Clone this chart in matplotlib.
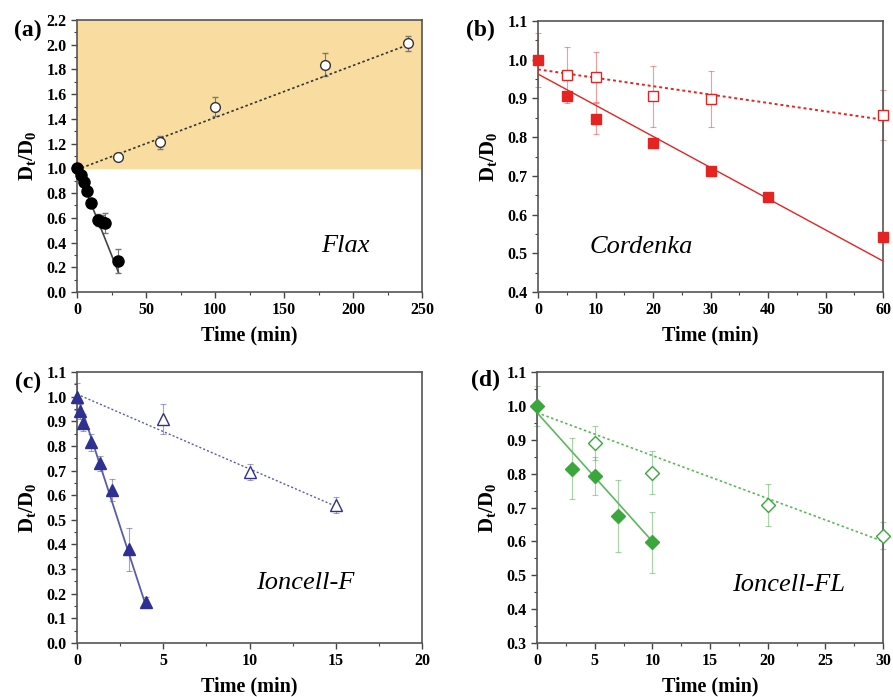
import matplotlib
matplotlib.use("Agg")
import matplotlib.pyplot as plt
from matplotlib.ticker import MultipleLocator

plt.rcParams['font.family'] = ['Liberation Serif', 'DejaVu Serif']
plt.rcParams['font.size'] = 11
plt.rcParams['mathtext.fontset'] = 'custom'
plt.rcParams['mathtext.rm'] = 'Liberation Serif'
plt.rcParams['mathtext.bf'] = 'Liberation Serif:bold'

# (a) Flax
flax_t_fast = [0, 3, 5, 7, 10, 15, 18, 20, 30]
flax_fast = [1.0, 0.95, 0.89, 0.82, 0.72, 0.58, 0.57, 0.56, 0.25]
flax_fast_err = [0.02, 0.02, 0.03, 0.03, 0.03, 0.05, 0.05, 0.08, 0.10]
flax_t_slow = [30, 60, 100, 180, 240]
flax_slow = [1.09, 1.21, 1.50, 1.84, 2.01]
flax_slow_err = [0.02, 0.05, 0.08, 0.09, 0.06]
flax_fit_fast = ([0, 30], [1.0, 0.16])
flax_fit_slow = ([0, 240], [0.99, 2.0])

# (b) Cordenka
cord_t_fast = [0, 5, 10, 20, 30, 40, 60]
cord_fast = [1.0, 0.905, 0.848, 0.785, 0.712, 0.645, 0.542]
cord_fast_err = [0.07, 0.01, 0.04, 0.01, 0.01, 0.01, 0.01]
cord_t_slow = [5, 10, 20, 30, 60]
cord_slow = [0.96, 0.955, 0.905, 0.898, 0.858]
cord_slow_err = [0.073, 0.065, 0.078, 0.073, 0.065]
cord_fit_fast = ([0, 60], [0.963, 0.48])
cord_fit_slow = ([0, 60], [0.975, 0.845])

# (c) Ioncell-F
ionf_t_fast = [0, 0.167, 0.333, 0.833, 1.333, 2, 3, 4]
ionf_fast = [1.0, 0.94, 0.895, 0.815, 0.73, 0.62, 0.38, 0.165]
ionf_fast_err = [0.055, 0.03, 0.035, 0.035, 0.03, 0.045, 0.087, 0.02]
ionf_t_slow = [5, 10, 15]
ionf_slow = [0.91, 0.695, 0.56]
ionf_slow_err = [0.06, 0.033, 0.033]
ionf_fit_fast = ([0, 4], [1.01, 0.15])
ionf_fit_slow = ([0, 15], [1.01, 0.555])

# (d) Ioncell-FL
ionfl_t_fast = [0, 3, 5, 7, 10]
ionfl_fast = [1.0, 0.815, 0.793, 0.675, 0.598]
ionfl_fast_err = [0.06, 0.09, 0.055, 0.105, 0.09]
ionfl_t_slow = [5, 10, 20, 30]
ionfl_slow = [0.89, 0.803, 0.707, 0.617]
ionfl_slow_err = [0.05, 0.063, 0.062, 0.04]
ionfl_fit_fast = ([0, 10], [0.98, 0.60])
ionfl_fit_slow = ([0, 30], [0.98, 0.60])

fig = plt.figure(figsize=(8.93, 6.97), dpi=100)
W, H = 893, 697


def make_ax(l, r, t, b):
    return fig.add_axes([l / W, 1 - b / H, (r - l) / W, (b - t) / H])


def style(ax, xlim, ylim, xmaj, xmin, ymaj, ymin):
    ax.set_xlim(*xlim)
    ax.set_ylim(*ylim)
    ax.xaxis.set_major_locator(MultipleLocator(xmaj))
    ax.xaxis.set_minor_locator(MultipleLocator(xmin))
    ax.yaxis.set_major_locator(MultipleLocator(ymaj))
    ax.yaxis.set_minor_locator(MultipleLocator(ymin))
    ax.tick_params(which='major', direction='out', length=4, width=1,
                   color='#444444', labelsize=11.5)
    ax.tick_params(which='minor', direction='out', length=2.5, width=0.8,
                   color='#444444')
    for lab in ax.get_xticklabels() + ax.get_yticklabels():
        lab.set_fontweight('bold')
    for sp in ax.spines.values():
        sp.set_color('#555555')
        sp.set_linewidth(1.2)
    ax.set_xlabel('Time (min)', fontsize=14.5, fontweight='bold', labelpad=5)
    ax.set_ylabel(r'$\mathbf{D_t/D_0}$', fontsize=15, labelpad=6)


def series(ax, t, y, e, marker, color, fill, ms):
    ax.errorbar(t, y, yerr=e, fmt='none', ecolor=color, elinewidth=0.8,
                capsize=2, capthick=0.8, alpha=0.45, zorder=2, clip_on=False)
    ax.plot(t, y, linestyle='none', marker=marker, markersize=ms,
            markerfacecolor=color if fill else 'white',
            markeredgecolor=color, markeredgewidth=1.0, zorder=4,
            clip_on=False)


# panel (a)
ax = make_ax(77, 422, 20, 292)
style(ax, (0, 250), (0, 2.2), 50, 25, 0.2, 0.1)
ax.axhspan(1.0, 2.2, color='#F9DCA0', zorder=0)
ax.plot(*flax_fit_fast, color='#444444', lw=1.2, zorder=3)
ax.plot(*flax_fit_slow, color='#333333', lw=1.2, ls=(0, (1.5, 1.5)), zorder=3)
ax.errorbar(flax_t_fast, flax_fast, yerr=flax_fast_err, fmt='none',
            ecolor='#777777', elinewidth=0.8, capsize=2, zorder=2)
ax.plot(flax_t_fast, flax_fast, 'o', color='black', markersize=8, zorder=4,
        clip_on=False)
ax.errorbar(flax_t_slow, flax_slow, yerr=flax_slow_err, fmt='none',
            ecolor='#777777', elinewidth=0.8, capsize=2, zorder=2)
ax.plot(flax_t_slow, flax_slow, 'o', markerfacecolor='white',
        markeredgecolor='#333333', markersize=7, markeredgewidth=1.0, zorder=4)
ax.text(0.777, 0.169, 'Flax', transform=ax.transAxes, fontsize=19,
        style='italic', ha='center', va='center')

# panel (b)
red = '#E52421'
ax = make_ax(538, 883, 21, 292)
style(ax, (0, 60), (0.4, 1.1), 10, 5, 0.1, 0.05)
ax.plot(*cord_fit_fast, color=red, lw=1.0, zorder=3)
ax.plot(*cord_fit_slow, color=red, lw=1.4, ls=(0, (1.5, 1.5)), zorder=3)
series(ax, cord_t_fast, cord_fast, cord_fast_err, 's', red, True, 6.5)
series(ax, cord_t_slow, cord_slow, cord_slow_err, 's', red, False, 6.5)
ax.text(0.298, 0.166, 'Cordenka', transform=ax.transAxes, fontsize=19,
        style='italic', ha='center', va='center')

# panel (c)
blue = '#2E3192'
ax = make_ax(77, 422, 372, 643)
style(ax, (0, 20), (0, 1.1), 5, 2.5, 0.1, 0.05)
ax.plot(*ionf_fit_fast, color='#5A5DAA', lw=1.3, zorder=3)
ax.plot(*ionf_fit_slow, color='#5A5DAA', lw=1.0, ls=(0, (1.5, 1.5)), zorder=3)
series(ax, ionf_t_fast, ionf_fast, ionf_fast_err, '^', blue, True, 8)
series(ax, ionf_t_slow, ionf_slow, ionf_slow_err, '^', blue, False, 8)
ax.text(0.661, 0.221, 'Ioncell-F', transform=ax.transAxes, fontsize=19,
        style='italic', ha='center', va='center')

# panel (d)
green = '#3BA63B'
ax = make_ax(537, 883, 372, 643)
style(ax, (0, 30), (0.3, 1.1), 5, 2.5, 0.1, 0.05)
ax.plot(*ionfl_fit_fast, color='#5DB85D', lw=1.2, zorder=3)
ax.plot(*ionfl_fit_slow, color='#5DB85D', lw=1.2, ls=(0, (1.5, 1.5)), zorder=3)
series(ax, ionfl_t_fast, ionfl_fast, ionfl_fast_err, 'D', green, True, 7)
series(ax, ionfl_t_slow, ionfl_slow, ionfl_slow_err, 'D', green, False, 7)
ax.text(0.728, 0.214, 'Ioncell-FL', transform=ax.transAxes, fontsize=19,
        style='italic', ha='center', va='center')

# panel letters
for lbl, x, y in [('(a)', 28, 30), ('(b)', 480, 30), ('(c)', 28, 382), ('(d)', 486, 380)]:
    fig.text(x / W, 1 - y / H, lbl, fontsize=17, fontweight='bold',
             ha='center', va='center')

fig.savefig('out.png', dpi=100)
